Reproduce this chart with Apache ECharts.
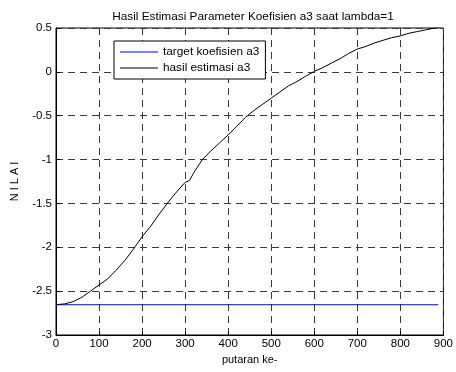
<!DOCTYPE html>
<html>
<head>
<meta charset="utf-8">
<script src="https://cdn.jsdelivr.net/npm/echarts@6/dist/echarts.min.js"></script>
<style>
  html, body { margin: 0; padding: 0; background: #fff; }
  #chart { width: 456px; height: 372px; }
</style>
</head>
<body>
<div id="chart"></div>
<script>
// putaran (iteration) positions and estimated a3 values
const putaran = [0, 20, 40, 60, 80, 100, 120, 140, 160, 180, 200, 220, 240, 260, 280, 300,
  310, 320, 340, 360, 380, 400, 420, 440, 460, 480, 500, 520, 540, 560, 580, 600, 620, 640,
  660, 680, 700, 720, 740, 760, 780, 800, 820, 840, 860, 880, 888];
const estimasiA3 = [-2.655, -2.645, -2.62, -2.57, -2.5, -2.43, -2.36, -2.26, -2.15, -2.02,
  -1.88, -1.76, -1.62, -1.49, -1.37, -1.26, -1.24, -1.15, -1.0, -0.9, -0.81, -0.72, -0.62,
  -0.52, -0.44, -0.37, -0.3, -0.23, -0.16, -0.11, -0.05, 0.005, 0.05, 0.1, 0.15, 0.21, 0.26,
  0.29, 0.33, 0.36, 0.39, 0.41, 0.44, 0.46, 0.48, 0.5, 0.5];
const targetX = [0, 888];
const targetA3 = [-2.655, -2.655];
const yTicks = [0.5, 0, -0.5, -1, -1.5, -2, -2.5, -3];

const font = 'Liberation Sans, Arial, sans-serif';

const chart = echarts.init(document.getElementById('chart'));

const gridLine = { show: true, lineStyle: { color: '#3a3a3a', type: [7, 5], width: 1 } };

chart.setOption({
  animation: false,
  backgroundColor: '#fff',
  title: {
    text: 'Hasil Estimasi Parameter Koefisien a3 saat lambda=1',
    left: 248, top: 6, textAlign: 'center',
    textStyle: { fontFamily: font, fontSize: 11.8, fontWeight: 'normal', color: '#000' }
  },
  legend: {
    orient: 'vertical',
    left: 114, top: 41,
    padding: [5, 6, 5, 6],
    itemGap: 4,
    icon: 'rect',
    itemWidth: 38, itemHeight: 1,
    borderColor: '#000', borderWidth: 1,
    backgroundColor: '#fff',
    textStyle: { fontFamily: font, fontSize: 11.8, color: '#000' },
    data: ['target koefisien a3', 'hasil estimasi a3']
  },
  grid: {
    left: 56, right: 11, top: 28, bottom: 37,
    show: true, borderColor: '#000', borderWidth: 1
  },
  xAxis: {
    type: 'value', min: 0, max: 900, interval: 100,
    name: 'putaran ke-', nameLocation: 'middle', nameGap: 19,
    nameTextStyle: { fontFamily: font, fontSize: 11, color: '#000' },
    axisLine: { show: true, onZero: false, lineStyle: { color: '#000' } },
    axisTick: { show: true, inside: true, length: 4, lineStyle: { color: '#000' } },
    axisLabel: { fontFamily: font, fontSize: 11.5, color: '#000', margin: 3 },
    splitLine: gridLine
  },
  yAxis: {
    type: 'value', min: -3, max: 0.5, interval: 0.5,
    name: 'N I L A I', nameLocation: 'middle', nameGap: 36,
    nameTextStyle: { fontFamily: font, fontSize: 11, color: '#000' },
    axisLine: { show: true, onZero: false, lineStyle: { color: '#000' } },
    axisTick: { show: true, inside: true, length: 4, lineStyle: { color: '#000' } },
    axisLabel: {
      fontFamily: font, fontSize: 11.5, color: '#000', margin: 4,
      formatter: v => yTicks.includes(v) ? String(v) : ''
    },
    splitLine: gridLine
  },
  series: [
    {
      name: 'target koefisien a3',
      type: 'line',
      symbol: 'none',
      lineStyle: { color: '#0000ff', width: 1 },
      itemStyle: { color: '#0000ff' },
      data: targetX.map((x, i) => [x, targetA3[i]])
    },
    {
      name: 'hasil estimasi a3',
      type: 'line',
      symbol: 'none',
      lineStyle: { color: '#000', width: 1 },
      itemStyle: { color: '#000' },
      data: putaran.map((x, i) => [x, estimasiA3[i]])
    }
  ]
});

window.addEventListener('resize', () => {
  chart && chart.resize();
});
</script>
</body>
</html>
